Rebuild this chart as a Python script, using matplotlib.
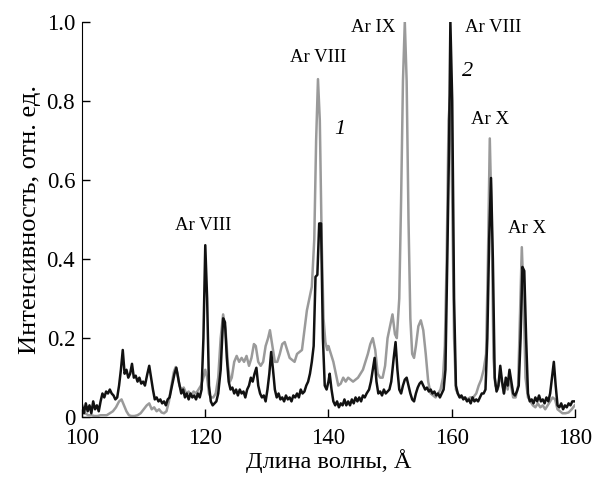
import matplotlib
matplotlib.use("Agg")
import matplotlib.pyplot as plt

# curve 2 (black)
x_black = [100.0, 100.3, 100.6, 100.9, 101.2, 101.5, 101.8, 102.1, 102.4, 102.7, 103.0, 103.3, 103.6, 103.9,
           104.2, 104.5, 104.8, 105.1, 105.4, 105.7, 106.0, 106.3, 106.6, 106.9, 107.2, 107.5, 107.8, 108.1,
           108.4, 108.7, 109.0, 109.3, 109.6, 109.9, 110.2, 110.6, 110.9, 111.2, 111.5, 111.8, 112.1, 112.4,
           112.7, 113.0, 113.3, 113.6, 113.9, 114.2, 114.6, 115.0, 115.3, 115.7, 116.1, 116.4, 116.7, 117.0,
           117.3, 117.6, 117.9, 118.2, 118.5, 118.8, 119.1, 119.4, 119.7, 120.0, 120.3, 120.6, 120.9, 121.2,
           121.5, 121.8, 122.1, 122.5, 122.9, 123.2, 123.5, 123.8, 124.1, 124.4, 124.7, 125.0, 125.3, 125.6,
           125.9, 126.2, 126.5, 126.8, 127.1, 127.4, 127.7, 128.0, 128.3, 128.6, 128.9, 129.2, 129.5, 129.8,
           130.1, 130.4, 130.7, 131.0, 131.3, 131.6, 131.9, 132.2, 132.5, 132.8, 133.1, 133.4, 133.7, 134.0,
           134.3, 134.6, 134.9, 135.2, 135.5, 135.8, 136.1, 136.4, 136.7, 137.0, 137.3, 137.6, 137.9, 138.2,
           138.5, 138.8, 139.1, 139.4, 139.7, 140.0, 140.2, 140.5, 140.8, 141.1, 141.4, 141.7, 142.0, 142.3,
           142.6, 142.9, 143.2, 143.5, 143.8, 144.1, 144.4, 144.7, 145.0, 145.3, 145.6, 145.9, 146.2, 146.6,
           146.9, 147.2, 147.5, 147.8, 148.1, 148.4, 148.7, 149.0, 149.3, 149.6, 149.9, 150.2, 150.6, 150.9,
           151.2, 151.5, 151.8, 152.1, 152.4, 152.7, 153.0, 153.3, 153.6, 153.9, 154.2, 154.5, 154.8, 155.1,
           155.4, 155.7, 156.0, 156.3, 156.6, 156.9, 157.2, 157.5, 157.8, 158.1, 158.4, 158.7, 159.0, 159.3,
           159.6, 159.8, 160.1, 160.4, 160.7, 161.0, 161.3, 161.6, 161.9, 162.2, 162.5, 162.8, 163.1, 163.4,
           163.7, 164.0, 164.3, 164.6, 164.9, 165.2, 165.5, 165.8, 166.1, 166.4, 166.7, 167.0, 167.3, 167.6,
           167.9, 168.2, 168.5, 168.8, 169.1, 169.4, 169.7, 170.0, 170.3, 170.6, 170.9, 171.2, 171.5, 171.8,
           172.1, 172.4, 172.7, 173.0, 173.3, 173.6, 173.9, 174.2, 174.5, 174.8, 175.1, 175.4, 175.7, 176.0,
           176.3, 176.6, 176.9, 177.2, 177.5, 177.8, 178.1, 178.4, 178.7, 179.0, 179.3, 179.6, 180.0]
y_black = [0.03, 0.01, 0.035, 0.015, 0.03, 0.01, 0.04, 0.02, 0.03, 0.015, 0.04, 0.06, 0.05, 0.065,
           0.06, 0.07, 0.06, 0.055, 0.045, 0.05, 0.08, 0.12, 0.17, 0.11, 0.12, 0.10, 0.11, 0.135,
           0.10, 0.105, 0.09, 0.10, 0.085, 0.09, 0.08, 0.11, 0.13, 0.10, 0.07, 0.045, 0.05, 0.04,
           0.045, 0.035, 0.04, 0.03, 0.045, 0.05, 0.08, 0.11, 0.125, 0.09, 0.06, 0.07, 0.05, 0.06,
           0.045, 0.06, 0.05, 0.055, 0.045, 0.06, 0.05, 0.07, 0.2, 0.435, 0.3, 0.08, 0.04, 0.03,
           0.035, 0.04, 0.06, 0.12, 0.25, 0.24, 0.15, 0.09, 0.07, 0.075, 0.06, 0.07, 0.055, 0.07,
           0.06, 0.065, 0.05, 0.07, 0.08, 0.1, 0.09, 0.11, 0.125, 0.08, 0.06, 0.05, 0.055, 0.04,
           0.07, 0.11, 0.165, 0.12, 0.07, 0.05, 0.06, 0.045, 0.05, 0.04, 0.055, 0.045, 0.05, 0.04,
           0.055, 0.05, 0.06, 0.05, 0.07, 0.06, 0.065, 0.08, 0.09, 0.11, 0.14, 0.18, 0.355, 0.36,
           0.49, 0.49, 0.2, 0.08, 0.07, 0.09, 0.11, 0.07, 0.04, 0.03, 0.04, 0.025, 0.035, 0.03,
           0.045, 0.03, 0.04, 0.03, 0.045, 0.035, 0.05, 0.04, 0.05, 0.04, 0.055, 0.05, 0.06, 0.07,
           0.09, 0.12, 0.15, 0.09, 0.06, 0.065, 0.055, 0.07, 0.06, 0.065, 0.07, 0.09, 0.15, 0.19,
           0.12, 0.07, 0.06, 0.08, 0.095, 0.1, 0.08, 0.06, 0.045, 0.04, 0.06, 0.075, 0.085, 0.09,
           0.08, 0.07, 0.075, 0.065, 0.07, 0.06, 0.065, 0.055, 0.06, 0.05, 0.06, 0.07, 0.12, 0.4,
           0.7, 1.0, 0.8, 0.3, 0.08, 0.06, 0.05, 0.055, 0.045, 0.05, 0.04, 0.045, 0.035, 0.05,
           0.04, 0.045, 0.04, 0.05, 0.06, 0.06, 0.07, 0.2, 0.45, 0.605, 0.4, 0.1, 0.065, 0.08,
           0.13, 0.09, 0.06, 0.1, 0.08, 0.12, 0.09, 0.06, 0.055, 0.065, 0.08, 0.2, 0.38, 0.37,
           0.2, 0.06, 0.04, 0.045, 0.035, 0.05, 0.04, 0.055, 0.04, 0.045, 0.035, 0.05, 0.04, 0.06,
           0.1, 0.14, 0.08, 0.03, 0.025, 0.035, 0.02, 0.03, 0.025, 0.035, 0.03, 0.04, 0.04]

# curve 1 (gray)
x_gray = [100.0, 100.5, 101.0, 101.5, 102.0, 102.5, 103.0, 103.5, 104.0, 104.5, 105.0, 105.5, 106.0, 106.4,
          106.8, 107.2, 107.6, 108.0, 108.5, 109.0, 109.5, 110.0, 110.5, 110.9, 111.3, 111.7, 112.1, 112.5,
          112.9, 113.3, 113.7, 114.1, 114.5, 114.9, 115.2, 115.5, 115.8, 116.1, 116.5, 116.9, 117.3, 117.7,
          118.1, 118.5, 118.9, 119.3, 119.7, 120.0, 120.3, 120.6, 120.9, 121.3, 121.7, 122.1, 122.5, 122.9,
          123.3, 123.7, 124.0, 124.3, 124.7, 125.1, 125.5, 125.9, 126.3, 126.7, 127.1, 127.5, 127.9, 128.2,
          128.6, 129.0, 129.4, 129.8, 130.2, 130.5, 130.9, 131.3, 131.7, 132.1, 132.5, 132.9, 133.3, 133.7,
          134.1, 134.5, 134.9, 135.3, 135.7, 136.1, 136.5, 136.9, 137.3, 137.7, 138.0, 138.3, 138.6, 138.9,
          139.2, 139.5, 139.8, 140.0, 140.4, 140.8, 141.2, 141.6, 142.0, 142.4, 142.8, 143.2, 143.6, 144.0,
          144.4, 144.8, 145.2, 145.6, 146.0, 146.4, 146.8, 147.2, 147.6, 148.0, 148.4, 148.8, 149.2, 149.6,
          150.0, 150.4, 150.8, 151.1, 151.5, 151.8, 152.1, 152.4, 152.7, 153.0, 153.3, 153.6, 153.9, 154.2,
          154.6, 155.0, 155.4, 155.8, 156.2, 156.6, 157.0, 157.4, 157.8, 158.2, 158.6, 158.9, 159.2, 159.5,
          159.8, 160.1, 160.4, 160.7, 161.0, 161.5, 162.0, 162.5, 163.0, 163.5, 164.0, 164.4, 164.8, 165.2,
          165.6, 165.9, 166.2, 166.5, 166.8, 167.1, 167.5, 167.9, 168.2, 168.5, 168.8, 169.1, 169.4, 169.7,
          170.0, 170.4, 170.8, 171.1, 171.4, 171.7, 172.0, 172.4, 172.8, 173.2, 173.6, 174.0, 174.4, 174.8,
          175.2, 175.6, 176.0, 176.4, 176.8, 177.2, 177.6, 178.0, 178.5, 179.0, 179.5, 180.0]
y_gray = [0.02, 0.01, 0.005, 0.005, 0.003, 0.003, 0.005, 0.005, 0.005, 0.01, 0.015, 0.025, 0.04, 0.045,
          0.03, 0.015, 0.005, 0.003, 0.003, 0.005, 0.01, 0.02, 0.03, 0.035, 0.02, 0.025, 0.015, 0.02,
          0.012, 0.01, 0.015, 0.04, 0.08, 0.115, 0.127, 0.11, 0.08, 0.07, 0.075, 0.06, 0.065, 0.055,
          0.065, 0.06, 0.07, 0.08, 0.1, 0.12, 0.1, 0.06, 0.05, 0.05, 0.06, 0.1, 0.2, 0.26,
          0.22, 0.13, 0.09, 0.1, 0.14, 0.155, 0.14, 0.15, 0.14, 0.155, 0.13, 0.15, 0.185, 0.18,
          0.14, 0.13, 0.14, 0.18, 0.2, 0.22, 0.18, 0.14, 0.14, 0.16, 0.185, 0.19, 0.17, 0.15,
          0.145, 0.14, 0.16, 0.165, 0.17, 0.22, 0.27, 0.3, 0.33, 0.45, 0.7, 0.855, 0.75, 0.45,
          0.25, 0.19, 0.17, 0.18, 0.16, 0.14, 0.11, 0.08, 0.085, 0.1, 0.09, 0.1, 0.095, 0.09,
          0.095, 0.1, 0.11, 0.12, 0.14, 0.16, 0.185, 0.2, 0.17, 0.11, 0.1, 0.1, 0.13, 0.2,
          0.23, 0.26, 0.21, 0.2, 0.3, 0.55, 0.85, 1.0, 0.85, 0.5, 0.25, 0.16, 0.15, 0.18,
          0.23, 0.245, 0.22, 0.16, 0.09, 0.06, 0.055, 0.05, 0.06, 0.07, 0.1, 0.18, 0.4, 0.75,
          0.82, 0.55, 0.2, 0.07, 0.06, 0.05, 0.05, 0.045, 0.05, 0.05, 0.06, 0.08, 0.095, 0.12,
          0.16, 0.4, 0.705, 0.5, 0.15, 0.08, 0.07, 0.11, 0.085, 0.06, 0.09, 0.07, 0.1, 0.075,
          0.05, 0.05, 0.08, 0.25, 0.43, 0.3, 0.1, 0.05, 0.04, 0.03, 0.025, 0.035, 0.025, 0.03,
          0.02, 0.03, 0.04, 0.05, 0.045, 0.02, 0.015, 0.01, 0.01, 0.012, 0.02, 0.03]

# line labels: text, x, y
labels = [("Ar VIII", 119.6, 0.486), ("Ar VIII", 138.3, 0.909), ("Ar IX", 147.3, 0.985),
          ("Ar VIII", 166.7, 0.985), ("Ar X", 166.3, 0.752), ("Ar X", 172.3, 0.478)]
curve_nums = [("1", 141.9, 0.727), ("2", 162.6, 0.873)]

plt.rcParams['font.family'] = ['Liberation Serif', 'DejaVu Serif']

fig = plt.figure(figsize=(5.95, 4.84), dpi=100)
ax = fig.add_axes([0.138, 0.138, 0.828, 0.817])

ax.plot(x_gray, y_gray, color="#9a9a9a", lw=1.8)
ax.plot(x_black, y_black, color="#111111", lw=1.8)

for t, x, y in labels:
    ax.text(x, y, t, fontsize=13.5, ha="center", va="center")
for t, x, y in curve_nums:
    ax.text(x, y, t, fontsize=16, style="italic", ha="center", va="center")

ax.set_xlim(100, 180)
ax.set_ylim(0, 1.0)
ax.set_xticks([100, 120, 140, 160, 180])
ax.set_yticks([0, 0.2, 0.4, 0.6, 0.8, 1.0])
ax.set_yticklabels(["0", "0.2", "0.4", "0.6", "0.8", "1.0"])
ax.tick_params(direction="in", length=6, width=1, labelsize=16.5)
ax.tick_params(axis="x", pad=8)
ax.tick_params(axis="y", pad=5)
ax.spines["top"].set_visible(False)
ax.spines["right"].set_visible(False)
ax.set_xlabel("Длина волны, Å", fontsize=17.5, labelpad=0)
ax.set_ylabel("Интенсивность, отн. ед.", fontsize=19, labelpad=4)

fig.savefig("out.png", dpi=100)
